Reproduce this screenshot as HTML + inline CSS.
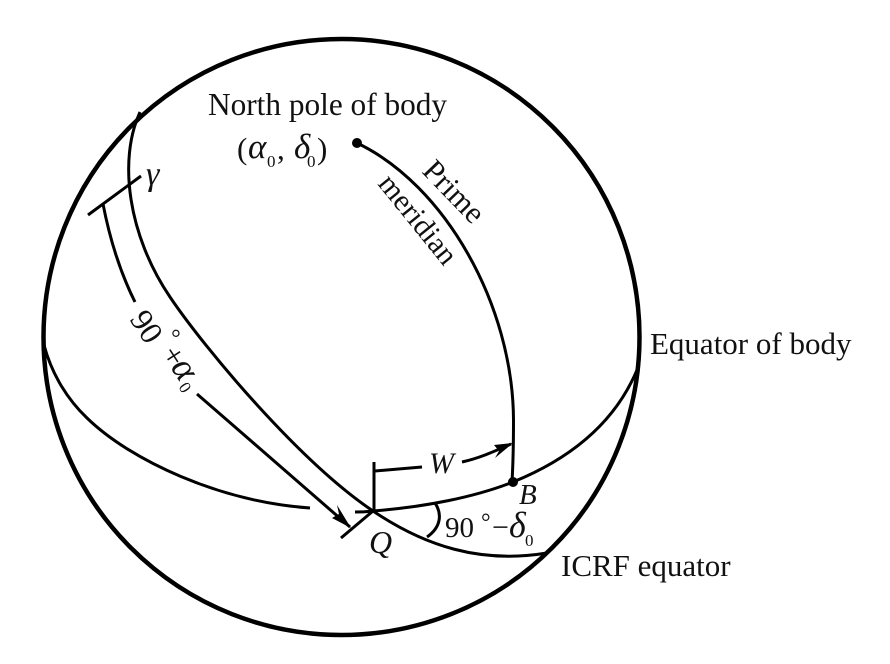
<!DOCTYPE html>
<html>
<head>
<meta charset="utf-8">
<style>
html,body{margin:0;padding:0;background:#fff}
svg{display:block}
text{font-family:"Liberation Serif",serif;fill:#111}
.i{font-style:italic}
</style>
</head>
<body>
<svg width="890" height="664" viewBox="0 0 890 664" xmlns="http://www.w3.org/2000/svg">
<g fill="none" stroke="#000" stroke-linecap="butt">
<circle cx="341.500" cy="337" r="298" stroke-width="4.500"/>
<g stroke-width="3">
<path d="M140 112C118 160 128 235 170 297C205 349 300 462 373 511C425 546 480 564 547 553"/>
<path d="M44 345C52 375 68 400 87 418C130 460 220 502 310 508"/>
<path d="M355 512C365 512 368 511.500 373 511C425 507 475 497 513 482C550 467 612 435 639 365"/>
<path d="M357 143C445 185 513 305 513.500 420C513.500 445 513 465 512 482"/>
<path d="M88 215L141 176"/>
<path d="M103 204C110 240 120 272 135 302"/>
<path d="M197 394L350 527"/>
<path d="M341 538L373 511"/>
<path d="M374 462V511"/>
<path d="M375 471L422 467"/>
<path d="M462 462C480 458 495 451 511 444"/>
<path d="M435 503C443 515 440 528 427 537"/>
</g>
</g>
<path d="M351 528L332 518L339 514L337 505Z" fill="#000"/>
<path d="M513 443L494 445L499 451L495 458Z" fill="#000"/>
<circle cx="357" cy="143" r="5" fill="#000"/>
<circle cx="513" cy="482" r="5" fill="#000"/>

<text x="208" y="115" font-size="31.300">North pole of body</text>
<text x="237" y="159" font-size="31">(</text>
<text x="248" y="158" font-size="35" class="i">α</text>
<text x="267" y="167" font-size="17">0</text>
<text x="277" y="159" font-size="31">,</text>
<text x="294" y="158" font-size="35" class="i">δ</text>
<text x="307" y="167" font-size="17">0</text>
<text x="317" y="159" font-size="31">)</text>

<text transform="translate(421,172) rotate(46)" font-size="31">Prime</text>
<text transform="translate(377,184) rotate(51)" font-size="30">meridian</text>
<text x="146" y="185" font-size="34" class="i">γ</text>
<text transform="translate(129,319) rotate(57)" font-size="32">90</text>
<text transform="translate(163,336) rotate(57)" font-size="24">°</text>
<text transform="translate(160,354) rotate(57)" font-size="32">+</text>
<text transform="translate(170,367) rotate(57)" font-size="37" class="i">α</text>
<text transform="translate(178,387) rotate(57)" font-size="17">0</text>

<text x="650" y="354" font-size="31">Equator of body</text>
<text x="561" y="576" font-size="31">ICRF equator</text>
<text x="429" y="473" font-size="30" class="i">W</text>
<text x="519" y="504" font-size="29" class="i">B</text>
<text x="369" y="553" font-size="32" class="i">Q</text>
<text x="445" y="537" font-size="29">90</text>
<text x="481" y="530" font-size="24">°</text>
<text x="492" y="537" font-size="30">−</text>
<text x="509" y="537" font-size="36" class="i">δ</text>
<text x="525" y="546" font-size="17">0</text>
</svg>
</body>
</html>
